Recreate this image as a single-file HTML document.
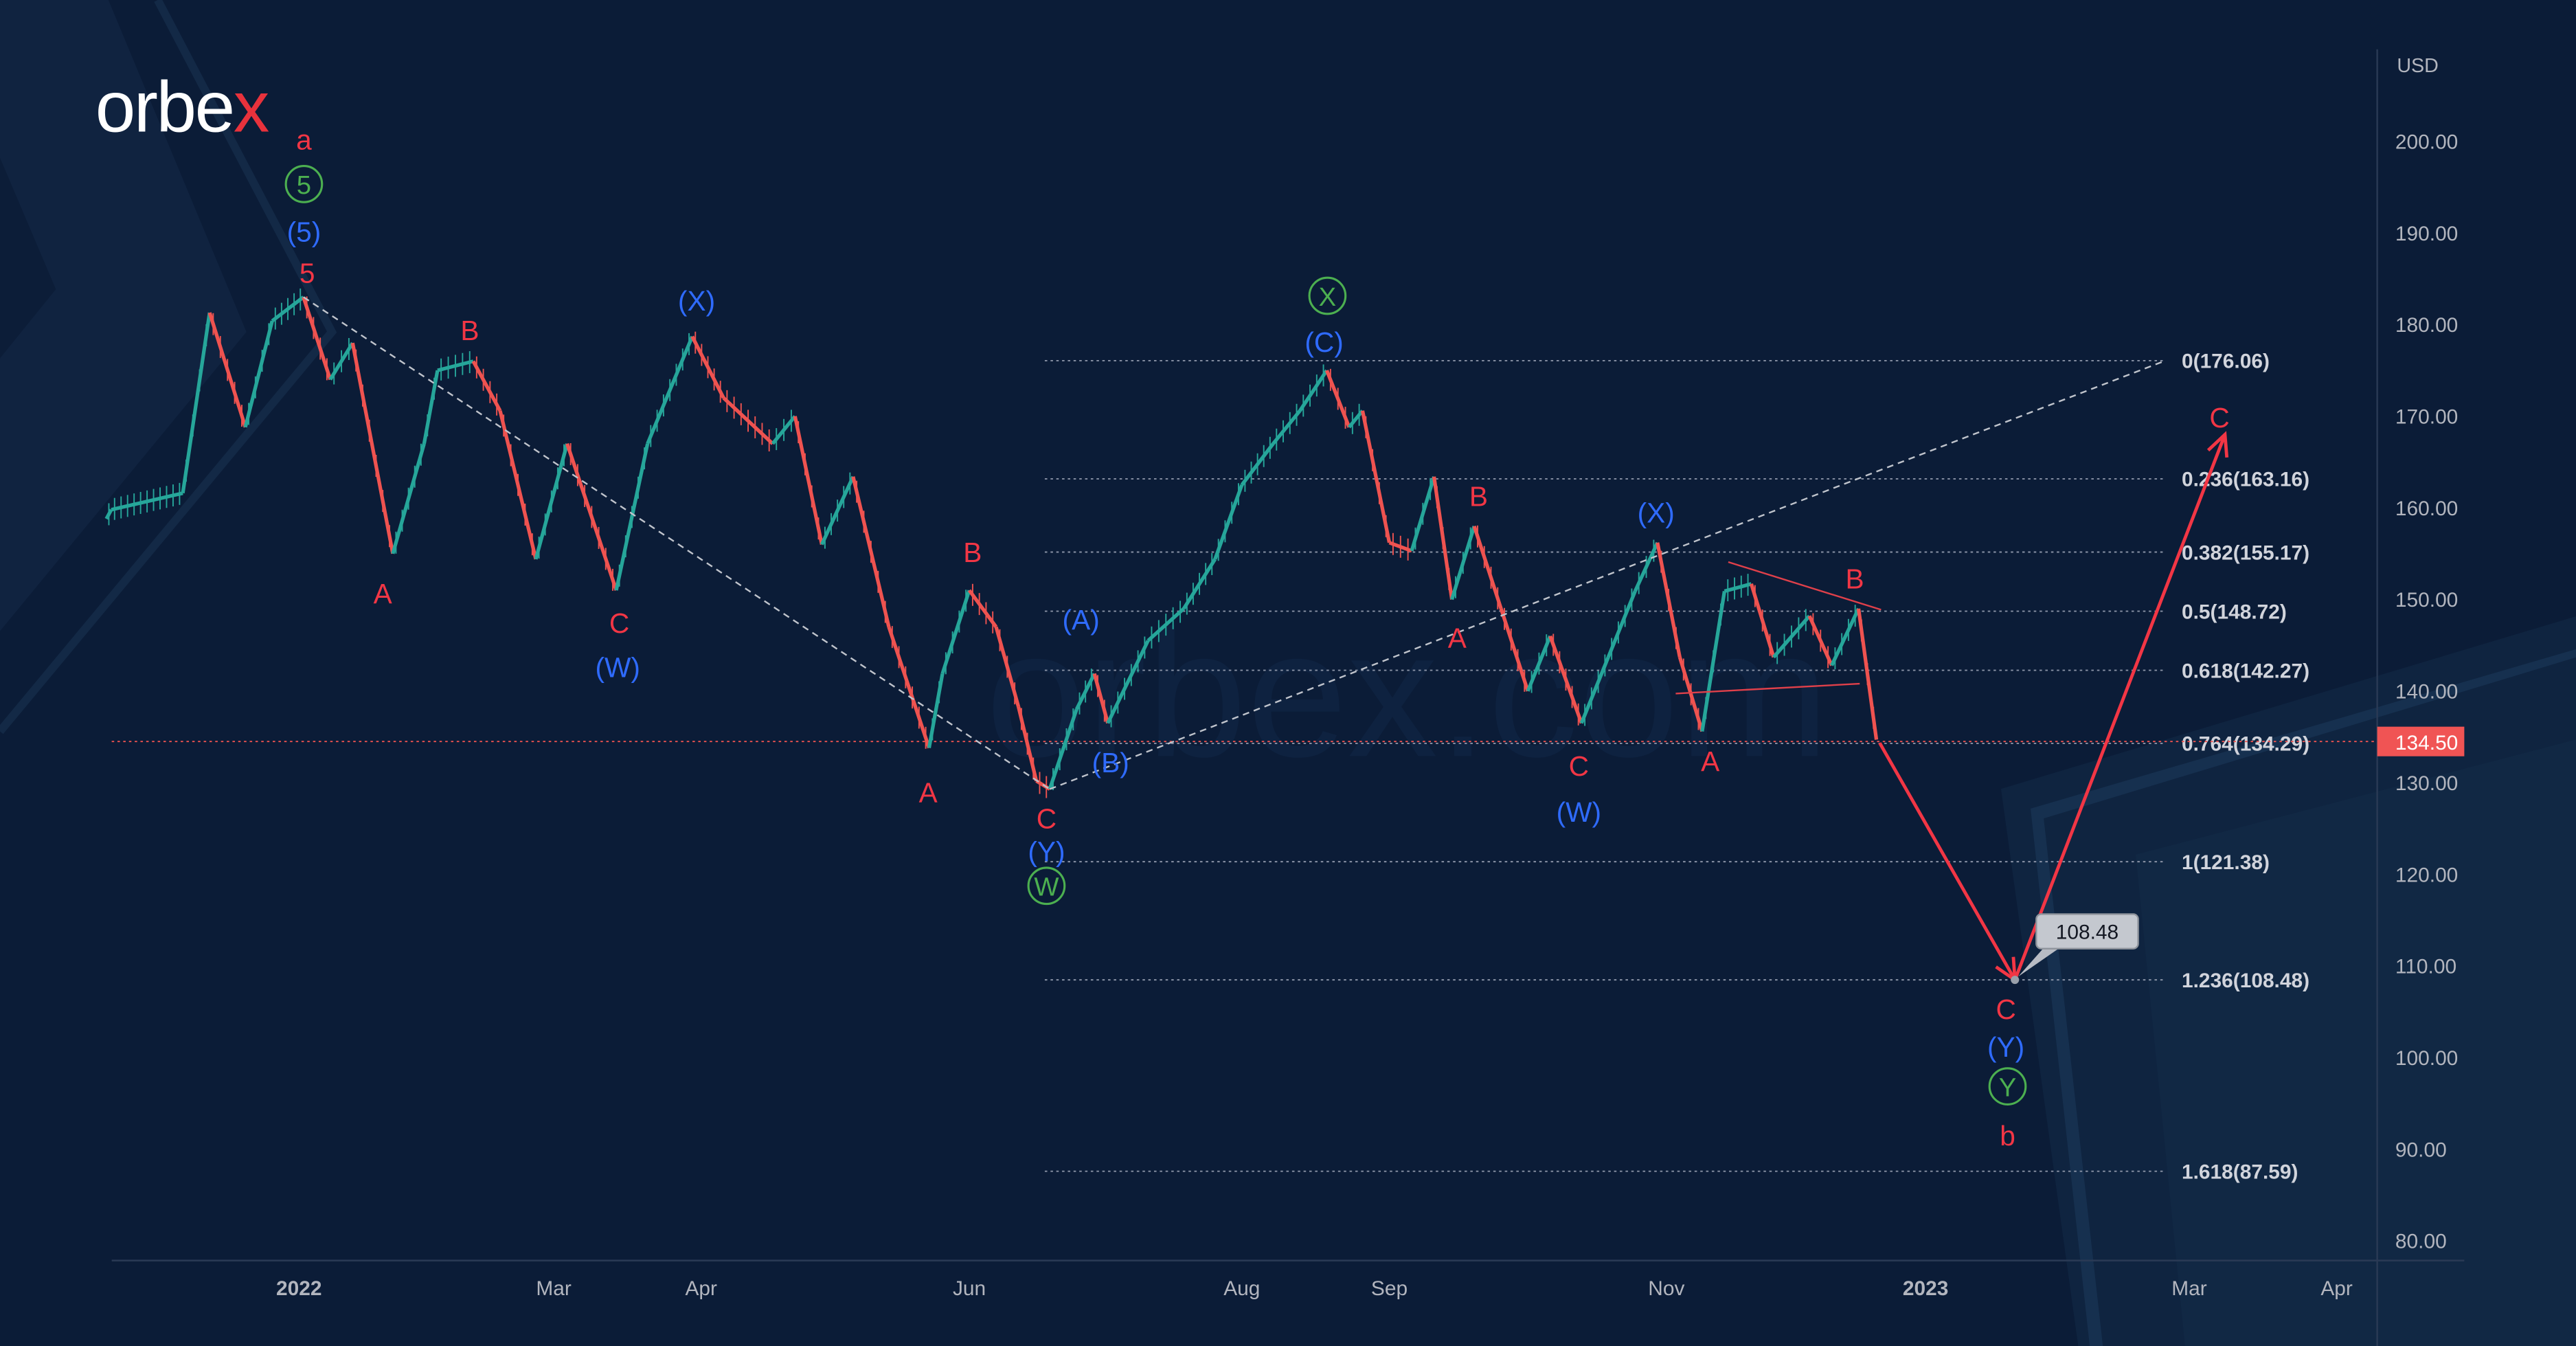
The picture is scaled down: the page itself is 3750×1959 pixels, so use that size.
<!DOCTYPE html>
<html><head><meta charset="utf-8"><style>
html,body{margin:0;padding:0;background:#0b1c36;}
svg{display:block;font-family:"Liberation Sans",sans-serif;}
</style></head><body>
<svg id="chart" width="3750" height="1959" viewBox="0 0 1568 819" preserveAspectRatio="none" xmlns="http://www.w3.org/2000/svg">
<rect x="0" y="0" width="1568" height="819" fill="#0b1c37"/>
<g>
<polygon points="0,0 66,0 150,202 0,384" fill="#102340"/>
<polygon points="0,96 34,176 0,218" fill="#0c1d38"/>
<polyline points="96,0 202,202 0,445" fill="none" stroke="#132946" stroke-width="5"/>
<polygon points="1218,480 1568,375 1568,819 1265,819" fill="#0f2440"/>
<polygon points="1236,492 1568,395 1568,400 1244,498 1280,819 1272,819" fill="#16304f"/>
<polygon points="1300,520 1568,450 1568,819 1330,819" fill="#112844"/>
</g>
<text x="600" y="460" font-size="110" fill="#0e2240">orbex.com</text>
<g id="logo">
<text x="58" y="80" font-size="44" fill="#ffffff" letter-spacing="-1">orbe<tspan fill="#e8323c">x</tspan></text>
</g>
<g id="grid"></g>
<g id="candles"></g>
<g id="overlay"></g>
<g id="labels"></g>
<g id="axes"></g>
</svg>
<script>
const ns="http://www.w3.org/2000/svg";
const days=[-42,-26,-20,-12,-6,1,7,12,21,28,31,39,45,53,60,71,78,88,95,106,111,117,124,132,141,144,150,156,161,165,168,174,178,181,190,198,205,211,218,224,230,235,238,244,249,254,258,263,269,275,280,287,293,299,304,309,314,319,325,330,338,343,349,353];
const closes=[159.8,161.6,181.3,168.8,180.4,183,174,178,155,167,175,176,170.6,154.4,167,151,167,178.7,172,167,170,156,163.4,147,133.8,141.9,151,147,138.3,130.2,129.3,138,141.9,136.5,145.5,149,154.4,162.5,167,170.6,175,168.8,170.6,156.2,155.3,163.4,150,158,149,140,146,136.5,143.7,150.9,156.2,143.7,135.6,150.9,151.7,143.7,148.2,142.8,149,134.7];
const fibRatios=["0","0.236","0.382","0.5","0.618","0.764","1","1.236","1.618"];
const fibPrices=[176.06,163.16,155.17,148.72,142.27,134.29,121.38,108.48,87.59];
const priceTicks=[200,190,180,170,160,150,140,130,120,110,100,90,80];
const monthLabels=["2022","Mar","Apr","Jun","Aug","Sep","Nov","2023","Mar","Apr"];
const monthDays=[0,57,90,150,211,244,306,364,423,456];
const lastPrice=134.5;
const target=108.48;
const targetDay=384;
const projC=[431,168];

function X(d){return 182+d*2.72;}
function Y(p){return 86+(200-p)*5.575;}
function el(tag,attrs,parent,text){const e=document.createElementNS(ns,tag);for(const k in attrs)e.setAttribute(k,attrs[k]);if(text!==undefined)e.textContent=text;parent.appendChild(e);return e;}
const G=document.getElementById('grid'),C=document.getElementById('candles'),O=document.getElementById('overlay'),L=document.getElementById('labels'),A=document.getElementById('axes');

const fx1=X(days[30])-3,fx2=1318;
fibPrices.forEach((p,i)=>{
 const ln=el('line',{x1:fx1,x2:fx2,y1:Y(p),y2:Y(p),stroke:'#8a93a6','stroke-width':0.8,'stroke-dasharray':'1.5,2'},G);
 
 
 const t=el('text',{x:1328,y:Y(p)+4.5,'font-size':12.5,fill:'#d1d4dc','font-weight':'bold'},G,fibRatios[i]+'('+p.toFixed(2)+')');
 
 
});
const lp=el('line',{x1:68,x2:1447,y1:Y(lastPrice),y2:Y(lastPrice),stroke:'#ef5350','stroke-width':0.8,'stroke-dasharray':'1.5,2'},G);



for(let i=0;i<days.length;i++){
 const o=i?closes[i-1]:closes[0]-1,c=closes[i];
 const up=c>=o,col=up?'#26a69a':'#ef5350';
 const x0=i?X(days[i-1]):X(days[i])-3,x1=X(days[i]);
 const seg=el('line',{x1:x0,y1:Y(o),x2:x1,y2:Y(c),stroke:col,'stroke-width':2.2},C);
 
 
 const n=Math.max(1,Math.round((x1-x0)/4));
 for(let k=0;k<n;k++){
  const xx=x0+(x1-x0)*(k+0.5)/n,pp=o+(c-o)*(k+0.5)/n;
  const w=el('line',{x1:xx,x2:xx,y1:Y(pp+1.2),y2:Y(pp-1.2),stroke:col,'stroke-width':0.8},C);
  
  
 }
}

const d1=el('line',{x1:X(days[5]),y1:Y(closes[5]),x2:X(days[30]),y2:Y(closes[30]),stroke:'#c0c4cc','stroke-width':1,'stroke-dasharray':'4,3'},O);

const d2=el('line',{x1:X(days[30]),y1:Y(closes[30]),x2:1318,y2:Y(176.06),stroke:'#c0c4cc','stroke-width':1,'stroke-dasharray':'4,3'},O);

const t1=el('line',{x1:1052,y1:342,x2:1145,y2:371,stroke:'#e0404a','stroke-width':1},O);

const t2=el('line',{x1:1020,y1:422,x2:1132,y2:416,stroke:'#e0404a','stroke-width':1},O);

const sx=X(days[days.length-1])+2,sy=Y(closes[closes.length-1])+2;
const tx=X(targetDay),ty=Y(target),cx=X(projC[0]),cy=Y(projC[1]);
const pr=el('polyline',{points:`${sx},${sy} ${tx},${ty} ${cx},${cy}`,fill:'none',stroke:'#f23645','stroke-width':2},O);

function head(x0,y0,x1,y1){const a=Math.atan2(y1-y0,x1-x0),L=14;
 const p=el('polyline',{points:`${x1-L*Math.cos(a-0.45)},${y1-L*Math.sin(a-0.45)} ${x1},${y1} ${x1-L*Math.cos(a+0.45)},${y1-L*Math.sin(a+0.45)}`,fill:'none',stroke:'#f23645','stroke-width':2},O);
 }
head(sx,sy,tx,ty);head(tx,ty,cx,cy);
el('circle',{cx:tx,cy:ty,r:2.5,fill:'#9aa0aa'},O);
el('polygon',{points:`${tx+2},${ty-2} ${tx+18},${ty-20} ${tx+28},${ty-20}`,fill:'#b8bcc4'},O);
const tb=el('rect',{x:tx+13,y:ty-40,width:62,height:21,rx:3,fill:'#c4c8cf',stroke:'#8f949c'},O);

el('text',{x:tx+44,y:ty-25,'font-size':12.5,'text-anchor':'middle',fill:'#131722'},O,target.toFixed(2));

const R='#f23645',B='#2f6bff',Gr='#4caf50';
const labs=[['a',185,91,R],['5',187,172,R],['(5)',185,147,B],['A',233,367,R],['B',286,207,R],['C',377,385,R],['(W)',376,412,B],['(X)',424,189,B],['A',565,488,R],['B',592,342,R],['C',637,504,R],['(Y)',637,524,B],['(A)',658,383,B],['(B)',676,470,B],['(C)',806,214,B],['B',900,308,R],['A',887,394,R],['C',961,472,R],['(W)',961,500,B],['(X)',1008,318,B],['A',1041,469,R],['B',1129,358,R],['C',1221,620,R],['(Y)',1221,643,B],['b',1222,697,R],['C',1351,260,R]];
labs.forEach(l=>{const t=el('text',{x:l[1],y:l[2],'font-size':17,'text-anchor':'middle',fill:l[3]},L,l[0]);
 });
const circ=[['5',185,112],['W',637,539],['X',808,180],['Y',1222,661]];
circ.forEach(c=>{const g=el('g',{},L);
 el('circle',{cx:c[1],cy:c[2],r:11,fill:'none',stroke:Gr,'stroke-width':1.3},g);
 el('text',{x:c[1],y:c[2]+6,'font-size':16,'text-anchor':'middle',fill:Gr},g,c[0]);});

el('line',{x1:1447,y1:30,x2:1447,y2:819,stroke:'#2a3a55','stroke-width':1},A);
el('line',{x1:68,y1:767,x2:1500,y2:767,stroke:'#2a3a55','stroke-width':1},A);
const usd=el('text',{x:1459,y:44,'font-size':12,fill:'#b2b5be'},A,'USD');

priceTicks.forEach(p=>{const t=el('text',{x:1458,y:Y(p)+4.5,'font-size':12.5,fill:'#b2b5be'},A,p.toFixed(2));
 });
monthLabels.forEach((m,i)=>{const t=el('text',{x:X(monthDays[i]),y:788,'font-size':12.5,'text-anchor':'middle',fill:'#b2b5be','font-weight':i==0||i==7?'bold':'normal'},A,m);
 });
const tag=el('rect',{x:1447,y:Y(lastPrice)-9,width:53,height:18,fill:'#f05454'},A);

el('text',{x:1458,y:Y(lastPrice)+5,'font-size':12.5,fill:'#ffffff'},A,lastPrice.toFixed(2));
</script>
</body></html>
